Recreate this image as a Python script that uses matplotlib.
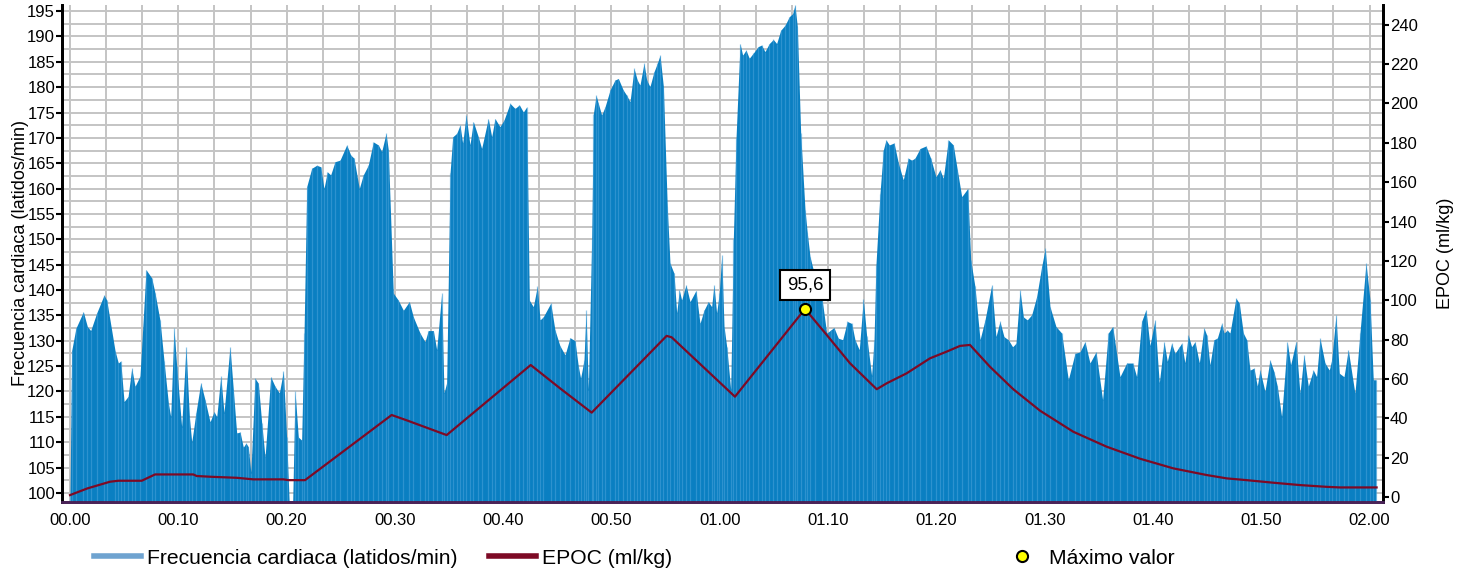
import matplotlib
matplotlib.use("Agg")
import matplotlib.pyplot as plt
from matplotlib.ticker import MultipleLocator
from matplotlib.lines import Line2D

plt.rcParams['font.family'] = ['Liberation Sans', 'DejaVu Sans']

# heart rate (latidos/min), time in minutes
hr_t = [0.0, 0.15, 0.55, 1.23, 1.60, 1.91, 2.47, 3.14, 3.39, 4.16, 4.46, 4.68, 4.99, 5.36, 5.70,
        6.00, 6.46, 7.02, 7.54, 7.85, 8.31, 8.68, 9.08, 9.30, 9.60, 9.85, 10.31, 10.71, 11.02,
        11.24, 11.63, 12.07, 12.47, 12.93, 13.30, 13.55, 13.92, 14.22, 14.77, 15.08, 15.39,
        15.70, 16.00, 16.25, 16.46, 16.70, 17.08, 17.39, 17.70, 18.01, 18.53, 18.93, 19.33,
        19.70, 20.00, 20.24, 20.56, 20.78, 21.08, 21.39, 21.61, 21.86, 22.32, 22.78, 23.15,
        23.45, 23.76, 24.07, 24.47, 24.93, 25.55, 25.92, 26.22, 26.71, 27.08, 27.54, 28.01,
        28.47, 28.78, 29.18, 29.39, 29.85, 30.31, 30.78, 31.33, 31.70, 32.32, 32.78, 33.08,
        33.55, 33.86, 34.32, 34.53, 34.78, 35.09, 35.34, 35.71, 36.01, 36.26, 36.57, 36.93,
        37.24, 37.70, 38.01, 38.62, 38.94, 39.24, 39.70, 40.07, 40.63, 41.09, 41.49, 41.86,
        42.17, 42.41, 42.78, 43.15, 43.40, 43.70, 44.39, 44.78, 45.24, 45.71, 46.17, 46.63,
        46.93, 47.15, 47.46, 47.65, 47.86, 48.17, 48.33, 48.58, 48.78, 49.09, 49.40, 49.86,
        50.32, 50.63, 51.09, 51.40, 51.71, 52.08, 52.38, 52.63, 53.00, 53.25, 53.55, 53.92,
        54.23, 54.48, 54.79, 55.15, 55.40, 55.77, 56.02, 56.26, 56.48, 56.88, 57.25, 57.80,
        58.17, 58.54, 58.94, 59.25, 59.46, 59.71, 59.95, 60.18, 60.39, 60.64, 61.01, 61.25,
        61.50, 61.87, 62.11, 62.42, 62.72, 63.09, 63.55, 63.86, 64.17, 64.57, 64.94, 65.25,
        65.62, 66.02, 66.42, 66.73, 66.94, 67.16, 67.47, 67.87, 68.08, 68.33, 68.79, 69.41,
        69.87, 70.24, 70.54, 70.94, 71.35, 71.77, 72.18, 72.48, 72.88, 73.25, 73.56, 74.02,
        74.24, 74.42, 74.79, 75.10, 75.35, 75.65, 76.09, 76.49, 76.94, 77.40, 77.72, 78.02,
        78.49, 79.04, 79.47, 79.96, 80.33, 80.64, 81.10, 81.56, 81.93, 82.34, 82.89, 83.17,
        83.56, 84.03, 84.49, 85.11, 85.50, 85.87, 86.24, 86.64, 87.04, 87.35, 87.72, 88.03,
        88.39, 88.80, 89.26, 89.72, 90.05, 90.49, 91.04, 91.57, 92.18, 92.80, 93.26, 93.72,
        94.18, 94.74, 95.35, 95.87, 96.28, 96.95, 97.57, 98.13, 98.49, 98.95, 99.35, 99.72,
        100.18, 100.58, 101.02, 101.32, 101.72, 102.03, 102.43, 102.65, 102.95, 103.26, 103.57,
        103.88, 104.28, 104.71, 104.96, 105.26, 105.63, 105.94, 106.34, 106.56, 106.86, 107.11,
        107.66, 107.97, 108.34, 108.65, 108.96, 109.33, 109.63, 109.88, 110.34, 110.80, 111.17,
        111.48, 111.88, 112.40, 112.71, 113.20, 113.57, 113.94, 114.34, 114.80, 115.11, 115.42,
        115.88, 116.28, 116.50, 116.90, 117.20, 117.64, 118.03, 118.65, 119.11, 119.67, 120.04,
        120.34, 120.59]
hr = [100, 128, 132.5, 135.7, 132.8, 132, 135.5, 139, 138, 128, 125.6, 126, 118, 119, 124.6,
      121, 123, 144, 142.4, 139.4, 134, 126, 117.7, 115, 132.5, 125, 113, 128.8, 115,
      110, 115.8, 121.7, 118.3, 114, 116, 115, 123, 115.8, 128.8, 120.3, 111.8,
      112, 109, 109.8, 109.1, 104, 122.6, 121.6, 113.8, 107, 122.9, 121, 119.7,
      124, 111, 98, 98, 120, 111, 110.4, 131.5, 160.4, 164, 164.6, 164.3,
      160, 163.3, 162.7, 165.3, 165.6, 168.6, 166.6, 166, 160, 162.7, 164.6, 169.2,
      168.6, 167.3, 170.9, 167.6, 139.4, 138, 136, 137.7, 134.7, 131.5, 129.8, 132,
      132, 128.2, 139.4, 119.7, 121.7, 163, 170.2, 170.9, 172.5, 168.9, 174.5, 168.6,
      173.2, 170.2, 167.9, 173.8, 170.2, 173.8, 172.2, 173.5, 176.8, 175.8, 176.5, 175.1,
      176.1, 138, 136.7, 140.7, 134.1, 134.7, 137.4, 132.1, 129, 127.2, 130.6, 130,
      125, 122.6, 126.2, 136, 120.3, 150, 174.8, 178.4, 176.8, 174.5, 176.1, 179.4,
      181.4, 181.7, 179.4, 178.4, 177.1, 183.7, 181.4, 180.4, 184.7, 181.4, 180.1, 183,
      184.7, 186.3, 180.1, 156.4, 145.3, 143.3, 135.4, 140, 138, 141, 137.7, 139.9,
      133.4, 136, 137.7, 136.7, 141, 135.4, 139.4, 146.9, 132.8, 128.8, 120.3, 150,
      170, 188.6, 186.3, 187.3, 185.7, 186.7, 188, 188.3, 187, 188.6, 189.4, 188.6,
      191.2, 192.2, 193.9, 194.5, 196.2, 191.9, 170.9, 155.8, 151.2, 146.6, 142.6, 138.7,
      131.5, 132.1, 132.6, 130.5, 130.2, 133.8, 133.4, 130.2, 128.2, 138.2, 131, 123.1,
      130, 145, 159, 167.6, 169.6, 168.6, 169, 165, 161.7, 166, 165.6, 166,
      167.9, 168.4, 166, 162.3, 163.7, 162, 169.6, 168.6, 163.7, 158.4, 160, 145.9,
      140.7, 130.2, 134.1, 141, 130.8, 133.8, 130.8, 130.2, 128.8, 129.5, 140, 134.7,
      134.1, 135.1, 138.7, 144.6, 148.2, 136.7, 132.8, 131.5, 122.3, 127.5, 127.8, 129.8,
      125.6, 127.8, 118.3, 131.5, 132.8, 122.9, 125.6, 125.6, 122.9, 133.8, 136.1, 129,
      134.1, 121.6, 129.8, 125.9, 129.5, 127.5, 128.8, 129.5, 125.6, 131.1, 128.8,
      129.8, 125.6, 132.5, 131.1, 125.2, 130.2, 130.5, 133.4, 131.5, 132.1, 131.5,
      138.4, 137.4, 131.5, 130.2, 124.2, 124.6, 121, 124.2, 120, 126.2, 123.9,
      121, 115, 129.8, 125.2, 129.8, 119.6, 127.2, 121, 124.2, 122.9, 130.5,
      125.6, 124.2, 126.2, 135.1, 123.6, 122.9, 128.2, 119.6, 131.5, 145.3, 138,
      122.3, 122.3]

# EPOC (ml/kg)
epoc_t = [0.0, 1.6, 3.69, 4.46, 6.62, 7.85, 11.38, 11.70, 13.08, 15.39, 16.93, 19.70, 20.16,
          21.70, 29.70, 31.09, 34.78, 42.54, 45.24, 48.17, 55.09, 55.55, 61.40, 67.87, 69.87,
          72.02, 74.49, 75.41, 77.26, 79.41, 80.95, 82.18, 83.10, 84.95, 87.10, 89.57, 92.64,
          95.72, 98.80, 101.87, 104.96, 106.81, 108.65, 111.11, 113.57, 116.04, 117.27, 120.65]
epoc = [1.0, 4.4, 7.8, 8.3, 8.3, 11.5, 11.5, 10.7, 10.3, 9.8, 9.0, 9.0, 8.6,
        8.6, 41.7, 39.0, 31.5, 67.1, 55.3, 42.9, 81.9, 81.2, 51.0, 95.6, 82.4,
        68.0, 54.8, 57.8, 62.9, 70.5, 73.9, 76.8, 77.3, 66.2, 54.8, 43.9, 33.2,
        25.6, 19.5, 14.6, 11.2, 9.5, 8.6, 7.3, 6.1, 5.2, 4.9, 4.9]

max_t = 67.87
max_val = 95.6
max_label = "95,6"

x_ticks = [0, 10, 20, 30, 40, 50, 60, 70, 80, 90, 100, 110, 120]
x_tick_labels = ["00.00", "00.10", "00.20", "00.30", "00.40", "00.50", "01.00",
                 "01.10", "01.20", "01.30", "01.40", "01.50", "02.00"]

hr_color = '#0a7fc2'
epoc_color = '#7d0a25'

fig = plt.figure(figsize=(14.7, 5.74), dpi=100)
ax = fig.add_axes([62 / 1470, 1 - 502 / 574, (1383 - 62) / 1470, (502 - 5) / 574])
ax2 = ax.twinx()

y_bottom = 98.2
ax.fill_between(hr_t, y_bottom, hr, color=hr_color, lw=0, zorder=2)
ax.vlines(hr_t, y_bottom, hr, color='#4aa3da', lw=0.9, alpha=0.55, zorder=3)
ax.set_xlim(-0.74, 121.24)
ax.set_ylim(y_bottom, 196.2)
ax.set_yticks(range(100, 196, 5))
ax.yaxis.set_minor_locator(MultipleLocator(2.5))
ax.set_xticks(x_ticks)
ax.set_xticklabels(x_tick_labels)
ax.xaxis.set_minor_locator(MultipleLocator(10 / 3))
ax.set_axisbelow(True)
ax.grid(True, which='both', color='#c4c4c4', lw=1.4)
ax.tick_params(axis='x', which='both', length=0, labelsize=12, pad=8)
ax.tick_params(axis='y', which='major', length=4, width=1.5, labelsize=12, pad=1)
ax.tick_params(axis='y', which='minor', length=0)
ax.set_ylabel("Frecuencia cardiaca (latidos/min)", fontsize=13, labelpad=-1)

ax2.plot(epoc_t, epoc, color=epoc_color, lw=1.6, zorder=4)
ax2.plot([max_t], [max_val], 'o', ms=8, mfc='#ffff00', mec='black', mew=1.5, zorder=6)
ax2.annotate(max_label, xy=(max_t, max_val), xytext=(0, 24), textcoords='offset pixels',
             ha='center', va='center', fontsize=13.5,
             bbox=dict(boxstyle='square,pad=0.35', fc='white', ec='black', lw=1.5), zorder=7)
ax2.set_ylim(-2.5, 250)
ax2.set_yticks(range(0, 241, 20))
ax2.tick_params(axis='y', length=4, width=1.5, labelsize=12, pad=1)
ax2.set_ylabel("EPOC (ml/kg)", fontsize=13, labelpad=14)

for a in (ax, ax2):
    a.spines['top'].set_visible(False)
    a.spines['left'].set_linewidth(2)
    a.spines['right'].set_linewidth(2)
    a.spines['bottom'].set_color('#4a2358')
    a.spines['bottom'].set_linewidth(2)

h1 = [Line2D([], [], color='#6fa3d0', lw=4), Line2D([], [], color=epoc_color, lw=4)]
fig.legend(h1, ["Frecuencia cardiaca (latidos/min)", "EPOC (ml/kg)"], loc='center left',
           bbox_to_anchor=(86 / 1470, 1 - 558 / 574), ncol=2, frameon=False, fontsize=15.2,
           handlelength=2.2, handletextpad=0.3, columnspacing=1.5, borderaxespad=0)
h2 = [Line2D([], [], ls='', marker='o', ms=8, mfc='#ffff00', mec='black', mew=1.5)]
fig.legend(h2, ["Máximo valor"], loc='center left', bbox_to_anchor=(998 / 1470, 1 - 558 / 574),
           frameon=False, fontsize=15.2, handlelength=1.5, handletextpad=0.5, borderaxespad=0)

fig.savefig("out.png", dpi=100)
